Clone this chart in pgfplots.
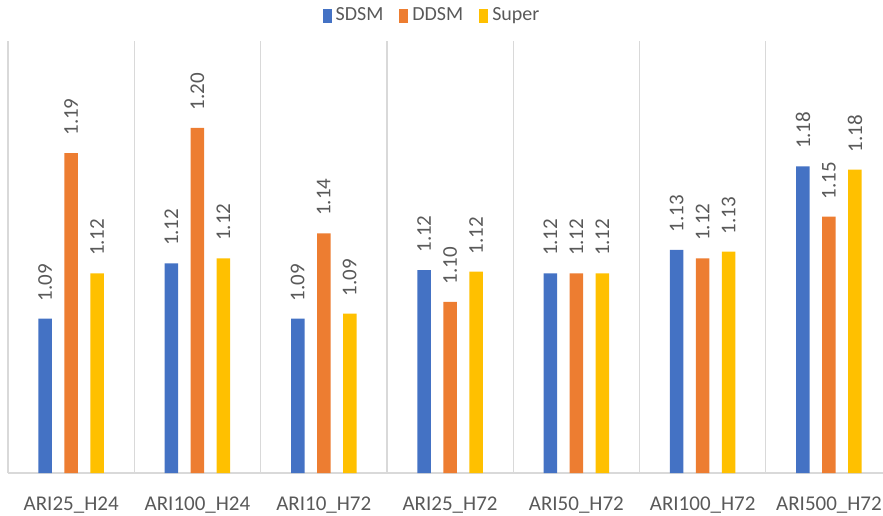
\documentclass[border=0pt]{standalone}
\usepackage{pgfplots}
\pgfplotsset{compat=1.18}
\usepackage{pgfplotstable}
\usepackage{fontspec}
\setmainfont{Carlito}

\definecolor{cBlue}{HTML}{4472C4}
\definecolor{cOrange}{HTML}{ED7D31}
\definecolor{cYellow}{HTML}{FFC000}
\definecolor{cGrid}{HTML}{D9D9D9}
\definecolor{cText}{HTML}{595959}

% bar heights and the labels printed above them
\pgfplotstableread{
x sdsm sdsmL ddsm ddsmL sup supL
0 1.090 1.09 1.189 1.19 1.117 1.12
1 1.123 1.12 1.204 1.20 1.126 1.12
2 1.090 1.09 1.141 1.14 1.093 1.09
3 1.119 1.12 1.100 1.10 1.118 1.12
4 1.117 1.12 1.117 1.12 1.117 1.12
5 1.131 1.13 1.126 1.12 1.130 1.13
6 1.181 1.18 1.151 1.15 1.179 1.18
}\data

\begin{document}
\begin{tikzpicture}
\begin{axis}[
    name=ax,
    scale only axis,
    width=437.5pt, height=216pt,
    ybar=6.25pt, bar width=6.75pt,
    xmin=-0.5, xmax=6.428,
    ymin=0.9976, ymax=1.2560,
    hide y axis,
    axis x line*=bottom,
    x axis line style={draw=cGrid, line width=0.8pt},
    xtick={0,...,6},
    xticklabels={ARI25\_H24, ARI100\_H24, ARI10\_H72, ARI25\_H72, ARI50\_H72, ARI100\_H72, ARI500\_H72},
    major tick length=0pt,
    minor xtick={-0.5,0.5,...,5.5},
    minor tick length=0pt,
    xminorgrids,
    minor grid style={draw=cGrid, line width=0.6pt},
    xticklabel style={font=\fontsize{10.5}{12}\selectfont, text=cText, yshift=-8.5pt},
    point meta=explicit symbolic,
    nodes near coords,
    nodes near coords style={font=\fontsize{10.5}{12}\selectfont, text=cText,
        rotate=90, anchor=west, inner xsep=8.5pt, inner ysep=0pt},
    legend style={at={(0.4857,1)}, anchor=center, yshift=12.5pt, draw=none, fill=none,
        font=\fontsize{10}{12}\selectfont, text=cText, legend columns=-1,
        /tikz/every even column/.append style={column sep=6pt}},
    legend image code/.code={\fill[#1, draw=none] (0pt,-3.4pt) rectangle (4.5pt,3.4pt);},
    clip=false,
]
\addplot[fill=cBlue, draw=none] table[x=x, y=sdsm, meta=sdsmL] {\data};
\addplot[fill=cOrange, draw=none] table[x=x, y=ddsm, meta=ddsmL] {\data};
\addplot[fill=cYellow, draw=none] table[x=x, y=sup, meta=supL] {\data};
\legend{SDSM, DDSM, Super}
\end{axis}
\pgfresetboundingbox
\path[use as bounding box] ([shift={(-4pt,-21pt)}]ax.south west) rectangle ([shift={(0pt,20.5pt)}]ax.north east);
\end{tikzpicture}
\end{document}
